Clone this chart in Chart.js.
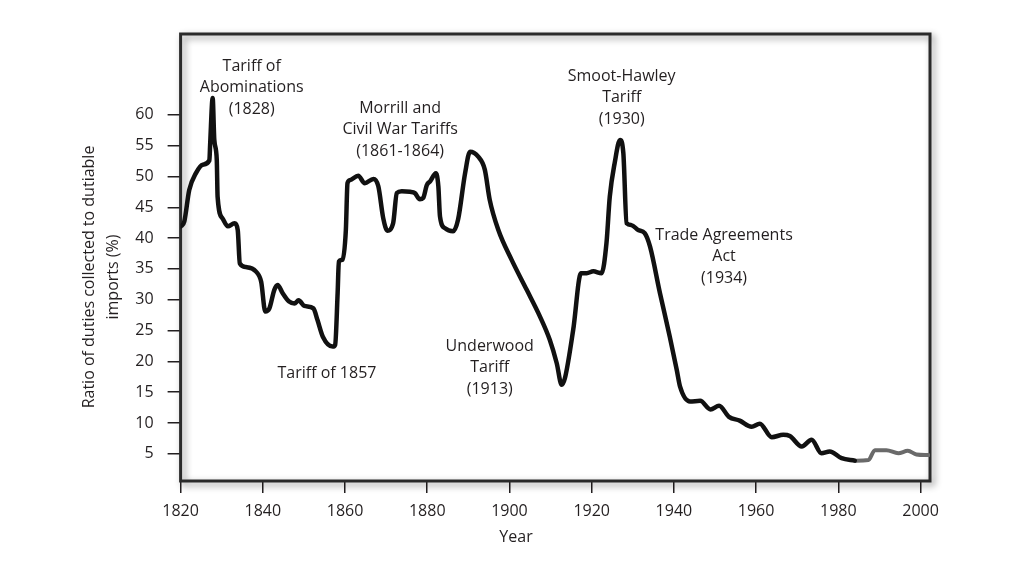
<!DOCTYPE html>
<html>
<head>
<meta charset="utf-8">
<script src="https://cdn.jsdelivr.net/npm/chart.js@4/dist/chart.umd.min.js"></script>
<style>
html,body{margin:0;padding:0;background:#fff;}
canvas{display:block;}
</style>
</head>
<body>
<canvas id="tariffChart" width="1024" height="576"></canvas>
<script>
/*========== Data ==========*/

const years=[1820.1,1820.9,1822.1,1823.7,1825.4,1827.0,1827.2,1827.8,1828.2,1828.8,1829.0,1830.2,1831.5,1833.1,1833.9,1834.4,1835.9,1838.3,1839.6,1840.6,
1841.6,1842.8,1843.6,1844.8,1846.4,1847.7,1848.7,1850.1,1852.3,1853.3,1854.6,1857.0,1857.6,1858.2,1858.5,1859.4,1860.2,1860.6,1861.2,1863.2,
1864.8,1866.9,1868.1,1869.3,1870.3,1871.7,1872.6,1873.8,1875.8,1877.0,1878.2,1879.0,1879.9,1880.7,1882.1,1882.7,1883.1,1884.3,1886.3,1887.5,
1889.2,1890.4,1892.4,1894.0,1895.2,1897.3,1900.5,1904.2,1907.4,1909.8,1911.5,1912.7,1913.5,1915.5,1917.4,1918.8,1920.4,1922.4,1923.6,1924.4,
1925.6,1926.9,1927.7,1928.5,1929.7,1931.3,1932.9,1934.2,1936.6,1939.0,1940.7,1941.5,1943.9,1946.4,1948.9,1951.0,1953.4,1956.0,1958.9,1960.9,
1963.8,1966.6,1968.2,1971.1,1973.5,1975.9,1977.9,1980.8,1984.0];

const duties=[41.9,42.7,47.8,50.5,51.9,52.6,55.4,62.7,55.9,52.7,46.7,43.2,41.9,42.4,41.3,35.9,35.3,34.6,32.9,28.1,
28.6,31.6,32.4,31.1,29.7,29.4,29.9,29.0,28.6,26.7,24.0,22.4,22.7,31.1,36.2,36.5,41.3,48.9,49.4,50.1,
48.9,49.6,48.4,43.2,41.2,42.4,47.3,47.6,47.5,47.3,46.3,46.5,48.6,49.2,50.5,48.4,43.5,41.6,41.1,43.0,
50.5,54.0,53.2,51.1,46.2,41.3,36.5,31.6,27.3,23.5,19.7,16.2,17.3,25.1,34.3,34.3,34.6,34.3,39.2,46.7,
52.2,55.9,53.8,42.4,42.1,41.3,40.8,38.6,31.1,24.0,18.6,15.9,13.5,13.6,12.2,12.8,11.0,10.4,9.4,9.9,
7.7,8.1,7.9,6.2,7.3,5.1,5.4,4.3,3.9];

const recentYears=[1984.0,1987.3,1988.9,1991.7,1994.6,1996.9,1999.0,2001.9];
const recentDuties=[3.9,4.0,5.6,5.6,5.1,5.5,4.9,4.8];

const xTicks=[1820,1840,1860,1880,1900,1920,1940,1960,1980,2000];
const yTicks=[5,10,15,20,25,30,35,40,45,50,55,60];

const notes=[
    {lines:["Tariff of","Abominations","(1828)"],year:1837.3,value:64.4},
    {lines:["Morrill and","Civil War Tariffs","(1861-1864)"],year:1873.4,value:57.6},
    {lines:["Tariff of 1857"],year:1855.6,value:18.1},
    {lines:["Underwood","Tariff","(1913)"],year:1895.2,value:19.0},
    {lines:["Smoot-Hawley","Tariff","(1930)"],year:1927.3,value:62.8},
    {lines:["Trade Agreements","Act","(1934)"],year:1952.2,value:37.0}
];

const yTitle=["Ratio of duties collected to dutiable","imports (%)"];
const xTitle="Year";

/*========== Setup ==========*/

const $=id=>document.getElementById(id);
const FONT="'Open Sans', Lato, sans-serif";
const INK="#231f20";

const toPoints=(xs,ys)=>xs.map((x,i)=>({x,y:ys[i]}));

/*========== Plugins ==========*/

const frame={
    id:"frame",
    beforeDatasetsDraw(chart){
        const {ctx,chartArea:a}=chart;
        ctx.save();
        ctx.shadowColor="rgba(0,0,0,0.45)";
        ctx.shadowBlur=7;
        ctx.shadowOffsetX=3;
        ctx.shadowOffsetY=3;
        ctx.lineWidth=3;
        ctx.strokeStyle="#2a2a2a";
        ctx.strokeRect(a.left,a.top,a.right-a.left,a.bottom-a.top);
        ctx.restore();
    }
};

const labels={
    id:"labels",
    afterDraw(chart){
        const {ctx}=chart;
        const xs=chart.scales.x,ys=chart.scales.y;
        ctx.save();
        ctx.fillStyle=INK;
        ctx.font="16px "+FONT;
        ctx.textAlign="center";
        ctx.textBaseline="middle";

        notes.forEach(n=>{
            const cx=xs.getPixelForValue(n.year);
            const cy=ys.getPixelForValue(n.value);
            const start=cy-(n.lines.length-1)/2*21.5;
            n.lines.forEach((t,i)=>ctx.fillText(t,cx,start+i*21.5));
        });

        ctx.fillText(xTitle,516,537);

        ctx.translate(101,277);
        ctx.rotate(-Math.PI/2);
        yTitle.forEach((t,i)=>ctx.fillText(t,0,(i-0.5)*24));
        ctx.restore();
    }
};

/*========== Chart ==========*/

new Chart($("tariffChart"),{
    type:"line",
    data:{
        datasets:[
            {data:toPoints(years,duties),borderColor:"#111",borderWidth:4.5},
            {data:toPoints(recentYears,recentDuties),borderColor:"#6a6a6a",borderWidth:4}
        ]
    },
    options:{
        responsive:false,
        animation:false,
        devicePixelRatio:1,
        layout:{padding:{left:0,right:94,top:34,bottom:0}},
        elements:{
            point:{radius:0},
            line:{cubicInterpolationMode:"monotone",borderJoinStyle:"round",borderCapStyle:"round",fill:false}
        },
        plugins:{legend:{display:false},tooltip:{enabled:false}},
        scales:{
            x:{
                type:"linear",
                min:1820,
                max:2002.3,
                afterFit:s=>{s.height=95;},
                afterBuildTicks:s=>{s.ticks=xTicks.map(v=>({value:v}));},
                grid:{drawOnChartArea:false,tickLength:12,color:INK,lineWidth:1.5},
                border:{display:false},
                ticks:{color:INK,font:{family:FONT,size:16},padding:9,maxRotation:0,callback:v=>String(v)}
            },
            y:{
                min:0.6,
                max:73.1,
                afterFit:s=>{s.width=180.6;},
                afterBuildTicks:s=>{s.ticks=yTicks.map(v=>({value:v}));},
                grid:{drawOnChartArea:false,tickLength:13,color:INK,lineWidth:1.5},
                border:{display:false},
                ticks:{color:INK,font:{family:FONT,size:16},padding:14,callback:v=>String(v)}
            }
        }
    },
    plugins:[frame,labels]
});
</script>
</body>
</html>
